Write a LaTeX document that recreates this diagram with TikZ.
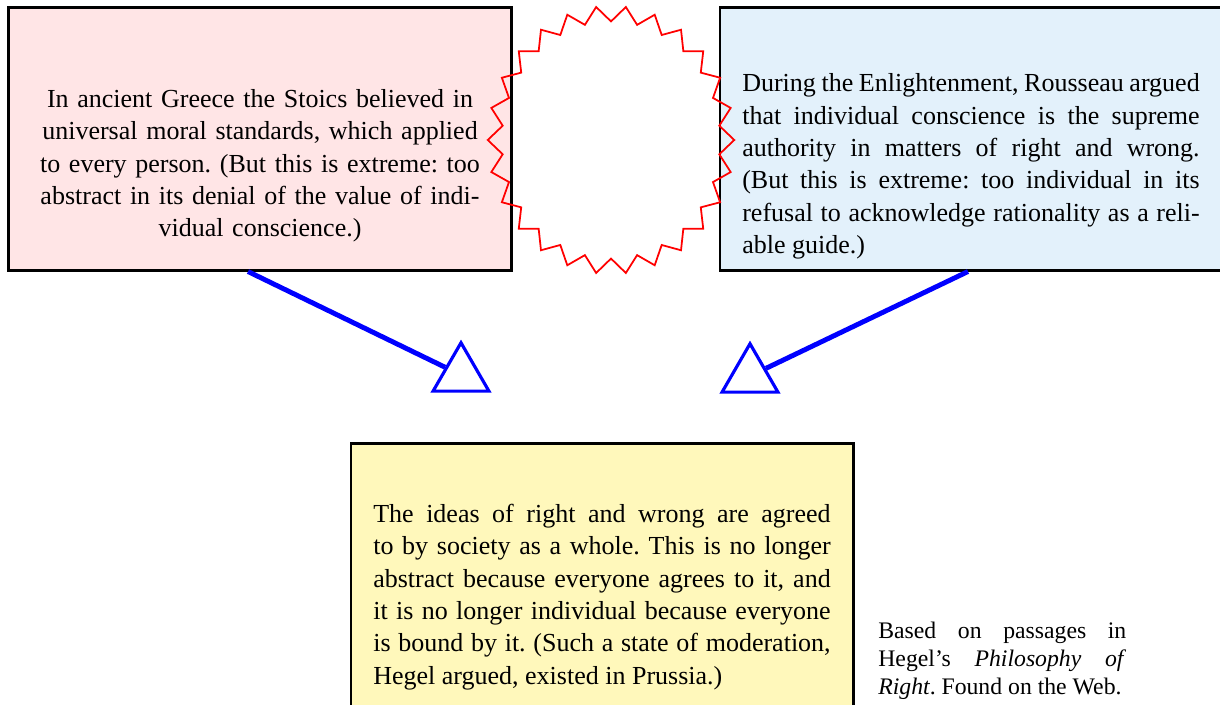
\documentclass[tikz,border=0pt]{standalone}
\usepackage{fontspec}
\setmainfont{Liberation Serif}
\usetikzlibrary{shapes.geometric}
\frenchspacing

\definecolor{stoicpink}{RGB}{255,229,230}
\definecolor{rousseaublue}{RGB}{227,241,251}
\definecolor{hegelyellow}{RGB}{255,248,187}

\begin{document}
\begin{tikzpicture}[x=0.02cm, y=-0.02cm,
  every node/.style={font=\fontsize{14.8pt}{18.4pt}\selectfont},
  box/.style={rectangle, draw=black, line width=1.2pt, inner sep=0pt,
    minimum width=10.06cm, minimum height=5.26cm, text width=9.15cm},
  burst/.style={star, star points=26, star point ratio=1.13, inner sep=0pt,
    minimum size=5.36cm, draw=red, line width=1pt,
    shape border rotate=6.92, xscale=0.92},
  tip/.style={regular polygon, regular polygon sides=3, inner sep=0pt,
    minimum size=1.29cm, draw=blue, line width=1.8pt},
  link/.style={draw=blue, line width=2.8pt}
]
\useasboundingbox (0,0) rectangle (1220,705);

% ---- The three positions ----
\node[box, fill=stoicpink, align=center] (stoic) at (260,139)
  {\rule{0pt}{1.44cm}In ancient Greece the Stoics believed in\\
   universal moral standards, which applied\\
   to every person. (But this is extreme: too\\
   abstract in its denial of the value of indi-\\
   vidual conscience.)};

\node[box, fill=rousseaublue, align=justify] (rousseau) at (971,139)
  {\rule{0pt}{1.46cm}During the Enlightenment, Rousseau argued\linebreak
   that individual conscience is the supreme\linebreak
   authority in matters of right and wrong.\linebreak
   (But this is extreme: too individual in its\linebreak
   refusal to acknowledge rationality as a reli-\linebreak
   able guide.)};

\node[box, fill=hegelyellow, align=justify] (hegel) at (602,575)
  {\rule{0pt}{1.24cm}The ideas of right and wrong are agreed\linebreak
   to by society as a whole. This is no longer\linebreak
   abstract because everyone agrees to it, and\linebreak
   it is no longer individual because everyone\linebreak
   is bound by it. (Such a state of moderation,\linebreak
   Hegel argued, existed in Prussia.)};

% clash between the two
\node[burst] (burst) at (611,140) {};

% ---- Arrows ----
\node[tip] (tipL) at (461,375) {};
\node[tip] (tipR) at (750,376) {};

\draw[link] ([xshift=-0.24cm]stoic.south) -- (tipL);
\draw[link] ([xshift=-0.06cm]rousseau.south) -- (tipR);

% source
\node[anchor=north west, inner sep=0pt, text width=4.96cm, align=justify,
  font=\fontsize{13.5pt}{15.9pt}\selectfont] (source) at (878,622)
  {Based on passages in\linebreak
   Hegel's \textit{Philosophy of}\linebreak
   \textit{Right}. Found on the Web.};

\end{tikzpicture}
\end{document}
